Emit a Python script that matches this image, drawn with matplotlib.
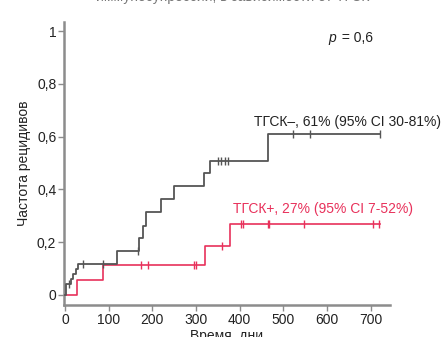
import matplotlib.pyplot as plt
from matplotlib.ticker import FixedLocator

plt.rcParams['font.family'] = ['Liberation Sans', 'DejaVu Sans']

# cumulative relapse incidence, step curves
neg_times = [0, 2, 14, 19, 25, 30, 120, 170, 178, 185, 220, 249, 318, 333, 465, 721]
neg_vals = [0, 0.039, 0.058, 0.077, 0.096, 0.116, 0.166, 0.214, 0.262, 0.313,
            0.362, 0.412, 0.461, 0.509, 0.61, 0.61]
neg_cens = [9, 42, 88, 168, 350, 358, 366, 374, 521, 562, 721]

pos_times = [0, 28, 88, 320, 378, 720]
pos_vals = [0, 0.055, 0.113, 0.186, 0.27, 0.27]
pos_cens = [174, 190, 296, 299, 360, 404, 408, 464, 466, 548, 706, 719]

x_ticks = [0, 100, 200, 300, 400, 500, 600, 700]
y_ticks = [0, 0.2, 0.4, 0.6, 0.8, 1]
y_tick_labels = ['0', '0,2', '0,4', '0,6', '0,8', '1']

neg_label = 'ТГСК–, 61% (95% CI 30-81%)'
pos_label = 'ТГСК+, 27% (95% CI 7-52%)'

c_neg = '#555555'
c_pos = '#e8315b'
c_axis = '#8c8c8c'


def level_at(times, vals, t):
    v = vals[0]
    for tt, vv in zip(times, vals):
        if tt <= t:
            v = vv
    return v


fig = plt.figure(figsize=(4.47, 3.37), dpi=100)
ax = fig.add_axes([0.1432, 0.095, 0.7293, 0.8397])

ax.step(neg_times, neg_vals, where='post', color=c_neg, lw=1.3, zorder=3)
ax.step(pos_times, pos_vals, where='post', color=c_pos, lw=1.2, zorder=2)
ax.plot(neg_cens, [level_at(neg_times, neg_vals, t) for t in neg_cens],
        ls='none', marker='|', ms=6, mew=1.0, color=c_neg, zorder=4)
ax.plot(pos_cens, [level_at(pos_times, pos_vals, t) for t in pos_cens],
        ls='none', marker='|', ms=6, mew=1.0, color=c_pos, zorder=4)

ax.set_xlim(-2, 744)
ax.set_ylim(-0.039, 1.035)
ax.xaxis.set_major_locator(FixedLocator(x_ticks))
ax.set_yticks(y_ticks)
ax.set_yticklabels(y_tick_labels)

for side in ['top', 'right']:
    ax.spines[side].set_visible(False)
for side in ['left', 'bottom']:
    ax.spines[side].set_color(c_axis)
    ax.spines[side].set_linewidth(1.8)
ax.tick_params(axis='both', colors=c_axis, labelcolor='#222222',
               labelsize=10, length=4, width=1, direction='out')
ax.tick_params(axis='x', pad=2)
ax.tick_params(axis='y', pad=1.5)

ax.set_xlabel('Время, дни', fontsize=10, color='#222222', labelpad=1)
ax.set_ylabel('Частота рецидивов', fontsize=10, color='#222222', labelpad=4)

ax.text(0.835, 0.945, 'p', style='italic', fontsize=10, color='#222222',
        transform=ax.transAxes, ha='right', va='center')
ax.text(0.84, 0.945, ' = 0,6', fontsize=10, color='#222222',
        transform=ax.transAxes, ha='left', va='center')

ax.text(860, 0.657, neg_label, fontsize=10, color='#222222',
        ha='right', va='center', clip_on=False)
ax.text(796, 0.325, pos_label, fontsize=10, color=c_pos,
        ha='right', va='center', clip_on=False)

fig.text(0.52, 1 - 1 / 337, 'иммуносупрессии, в зависимости от ТГСК',
         fontsize=10, color='#777777', ha='center', va='baseline')

fig.savefig('out.png', dpi=100)
